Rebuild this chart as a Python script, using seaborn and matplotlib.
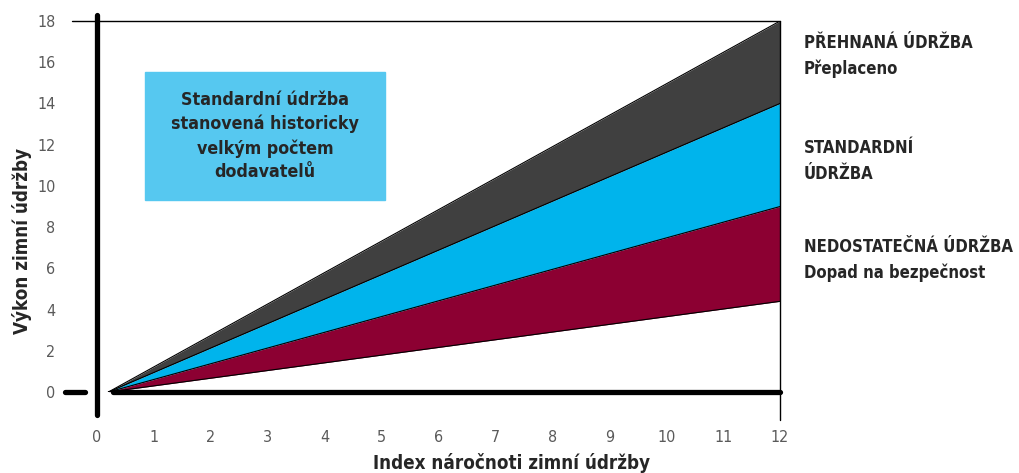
import numpy as np
import pandas as pd
import matplotlib
matplotlib.use("Agg")
import matplotlib.pyplot as plt
import seaborn as sns

# data
x_pts = [0.2, 12]
low_edge = [0, 4.4]      # bottom of red wedge
red_top = [0, 9]         # nedostatecna / standardni
cyan_top = [0, 14]       # standardni / prehnana
grey_top = [0, 18]       # top

x_ticks = list(range(0, 13))
y_ticks = list(range(0, 19, 2))

zones = [["PŘEHNANÁ ÚDRŽBA", "Přeplaceno"],
         ["STANDARDNÍ", "ÚDRŽBA"],
         ["NEDOSTATEČNÁ ÚDRŽBA", "Dopad na bezpečnost"]]
zone_y = [16.3, 11.2, 6.4]
box_text = "Standardní údržba\nstanovená historicky\nvelkým počtem\ndodavatelů"

sns.set_style("white")
plt.rcParams['font.family'] = ['DejaVu Sans']
plt.rcParams['font.stretch'] = 'condensed'

fig = plt.figure(figsize=(10.19, 4.73), dpi=100)
ax = fig.add_axes([0.0952, 0.1712, 0.6703, 0.7844])

df = pd.DataFrame({"x": x_pts, "low": low_edge, "red": red_top,
                   "cyan": cyan_top, "grey": grey_top})

ax.fill_between(df.x, df.cyan, df.grey, color="#404040", lw=0)
ax.fill_between(df.x, df.red, df.cyan, color="#00B4EC", lw=0)
ax.fill_between(df.x, df.low, df.red, color="#8C0032", lw=0)
for col in ["low", "red", "cyan", "grey"]:
    sns.lineplot(data=df, x="x", y=col, ax=ax, color="black", lw=0.8)

ax.set_xlim(0, 12)
ax.set_ylim(0, 18)
for s in ax.spines.values():
    s.set_visible(False)

# axes frame lines
ax.plot([0, 0], [-1.1, 18.3], color="black", lw=3.8, clip_on=False, solid_capstyle="round")
ax.plot([0.28, 12], [0, 0], color="black", lw=3.8, clip_on=False)
ax.plot([-0.56, -0.21], [0, 0], color="black", lw=3.8, clip_on=False)
ax.plot([-0.44, 12], [18, 18], color="black", lw=1, clip_on=False)
ax.plot([12, 12], [-1.36, 18], color="black", lw=1, clip_on=False)

ax.set_xticks(x_ticks)
ax.set_yticks(y_ticks)
ax.tick_params(length=0, labelsize=11.5, labelcolor="#5a5a5a")
ax.tick_params(axis="x", pad=27)
ax.tick_params(axis="y", pad=30)
ax.set_xlabel("")
ax.set_ylabel("")

fig.text(0.502, 0.0, "Index náročnoti zimní údržby", ha="center", va="bottom",
         fontsize=13.5, fontweight="bold")
fig.text(0.022, 0.49, "Výkon zimní údržby", rotation=90, ha="center", va="center",
         fontsize=13.5, fontweight="bold")

# highlighted box
ax.add_patch(plt.Rectangle((0.84, 9.32), 4.22, 6.21, color="#56C8F0", zorder=3))
ax.text(2.95, 12.42, box_text, ha="center", va="center", fontsize=12.8,
        fontweight="bold", linespacing=1.4, zorder=4)

for lines, yy in zip(zones, zone_y):
    ax.text(12.42, yy, "\n".join(lines), ha="left", va="center", fontsize=12,
            fontweight="bold", linespacing=1.55, clip_on=False)

plt.savefig("out.png", dpi=100)
